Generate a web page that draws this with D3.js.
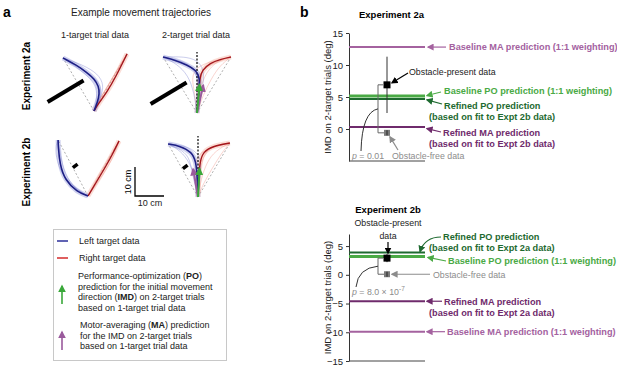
<!DOCTYPE html>
<html lang="en">
<head>
<meta charset="utf-8">
<title>Obstacle experiments</title>
<script src="https://d3js.org/d3.v7.min.js"></script>
<style>
  body { margin: 0; background: #fff; }
  svg { font-family: "Liberation Sans", Arial, sans-serif; }
  .axis path, .axis line { stroke: #333; }
  .axis text { font-size: 9.5px; fill: #222; }
</style>
</head>
<body>
<div id="fig"></div>
<script>
// ---- data: trajectories in cm (x right, y forward), origin = start position
var blue1a = [[0,0],[1.2,3],[1.9,6],[1.6,8.5],[0.2,11],[-2.5,13.3],[-6,15.8],[-10.7,18.3]];
var red1a = [[0,0],[1.5,2.5],[4.5,6.6],[7.5,11.8],[11.4,19.7]];
var blue1aFaint = [[[0,0],[2,4],[2.6,8],[0.5,11.5],[-5,15],[-10.7,18.3]],
                   [[0,0],[2.5,5],[3.4,9],[1.5,12.8],[-4,16],[-10.7,18.3]],
                   [[0,0],[1,4],[0.9,8],[-1,11],[-6,15.2],[-10.7,18.3]]];
var red1aFaint = [[[0,0],[2.5,5],[5.5,10],[8.5,15],[11.4,19.7]],
                  [[0,0],[1,2.5],[3.8,7],[7,12.5],[11.4,19.7]]];

var blue2a = [[0,0],[0.4,4],[0.7,7.9],[1.0,12.1],[-0.3,14.8],[-3.5,16.6],[-7.5,18.2],[-11.7,19.3]];
var red2a = [[0,0],[0.4,4],[0.7,7.9],[1.0,12.1],[1.8,14.8],[4.5,17.2],[8,18.5],[11.7,19.3]];
var blue2aFaint = [[[0,0],[-1,7],[-3,13],[-7,17],[-11.7,19.3]],
                   [[0,0],[1,10],[-1,15.5],[-5,18],[-11.7,19.3]],
                   [[0,0],[2,9],[2.5,14],[1,17.5],[-3,19.5],[-11.7,19.3]]];
var red2aFaint = [[[0,0],[2,6],[5,12],[8,16.5],[11.7,19.3]],
                  [[0,0],[1,8],[3,14],[7,18],[11.7,19.3]],
                  [[0,0],[0.5,6],[0,12],[3,16.5],[11.7,19.3]],
                  [[0,0],[-1,8],[-2,13],[1,17],[11.7,19.3]]];

var blue1b = [[0,0],[-3.8,1.4],[-7.9,5.5],[-9.7,10.7],[-10.3,17.6],[-10.3,19.3]];
var red1b = [[0,0],[3,5],[6,10],[8.5,14.5],[10.7,19]];
var blue1bFaint = [[[0,0],[-3.5,2],[-8.5,6.5],[-10.8,12],[-11.3,17],[-10.3,19.3]],
                   [[0,0],[-2,1],[-6.5,4.5],[-9,11],[-10,17],[-10.3,19.3]]];
var red1bFaint = [[[0,0],[3.6,5],[6.8,10],[9.2,14.5],[10.7,19]],
                  [[0,0],[2.6,5.2],[5.5,10.3],[8.2,14.8],[10.7,19]]];

var blue2b = [[0,0],[-0.3,7.6],[-0.7,12.1],[-2.1,15.5],[-6.2,17.6],[-10.3,18.3]];
var red2b = [[0,0],[0.3,7.6],[0.7,12.1],[1.7,15.5],[5.2,17.6],[11,18.6]];
var blue2bFaint = [[[0,0],[-1,7],[-3,12],[-6,16],[-10.3,18.3]],
                   [[0,0],[-1.5,6],[-2.5,11.5],[-4,15.5],[-10.3,18.3]],
                   [[0,0],[1,9],[1,14],[-3,17.5],[-10.3,18.3]]];
var red2bFaint = [[[0,0],[1,6],[3,12],[6,16],[11,18.6]],
                  [[0,0],[2,5],[5,10],[8,15],[11,18.6]],
                  [[0,0],[-0.5,8],[-1,13],[2,16.5],[11,18.6]],
                  [[0,0],[0.5,8],[1.5,14],[5,17.8],[11,18.6]]];

var obstacle2a = [[-16,3.1],[-3.6,10.5]];
var obstacle2b = [[-5.2,9.8],[-3.6,11]];

// ---- data: IMD values (deg)
var ticks2a = [0, 5, 10, 15];
var ticks2b = [-15, -10, -5, 0, 5];
var conditions = ["Obstacle-present", "Obstacle-free"];
var mean2a = [6.9, -0.6];
var ci2a = [[2.5, 11.3], [-1.0, -0.2]];
var mean2b = [2.9, 0.1];
var ci2b = [[2.2, 3.6], [-0.3, 0.5]];
var predNames = ["Baseline MA", "Refined MA", "Baseline PO", "Refined PO"];
var pred2a = [12.8, 0.3, 5.15, 4.7];
var pred2b = [-9.9, -4.6, 3.2, 3.9];
var pText2a = "0.01";

var cBaseMA = "#a4629f", cRefMA = "#6f2b6c", cBasePO = "#4aaa45", cRefPO = "#1e6a30", cGrey = "#8c8c8c";
var predColors = [cBaseMA, cRefMA, cBasePO, cRefPO];
var fLab = 9.2;

var svg = d3.select("#fig").append("svg").attr("width", 617).attr("height", 367);
var defs = svg.append("defs");
function marker(id, color, size) {
  defs.append("marker").attr("id", id).attr("viewBox", "0 0 10 10")
    .attr("refX", 8).attr("refY", 5).attr("markerUnits", "userSpaceOnUse")
    .attr("markerWidth", size).attr("markerHeight", size).attr("orient", "auto")
    .append("path").attr("d", "M0,0 L10,5 L0,10 z").attr("fill", color);
}
marker("mBaseMA", cBaseMA, 7); marker("mRefMA", cRefMA, 7);
marker("mBasePO", cBasePO, 7); marker("mRefPO", cRefPO, 7);
marker("mGrey", cGrey, 7); marker("mBlack", "#000", 7);
marker("mGreen", "#3aa83a", 8); marker("mPurple", "#9a5a9c", 8);

function text(x, y, s, size, opts) {
  opts = opts || {};
  return svg.append("text").attr("x", x).attr("y", y).text(s)
    .attr("font-size", size).attr("fill", opts.fill || "#222")
    .attr("font-weight", opts.bold ? "bold" : null)
    .attr("text-anchor", opts.anchor || "start");
}

// ---------------- panel a ----------------
text(3, 17, "a", 14, {bold: true, fill: "#000"});
text(141, 16, "Example movement trajectories", 10, {anchor: "middle"});
text(95, 38, "1-target trial data", 9, {anchor: "middle"});
text(196, 38, "2-target trial data", 9, {anchor: "middle"});
svg.append("text").attr("transform", "translate(30,76) rotate(-90)").attr("text-anchor", "middle")
  .attr("font-size", 10).attr("font-weight", "bold").text("Experiment 2a");
svg.append("text").attr("transform", "translate(30,172) rotate(-90)").attr("text-anchor", "middle")
  .attr("font-size", 10).attr("font-weight", "bold").text("Experiment 2b");

var cmPx = 2.9;
function panel(ox, oy, blue, red, blueFaint, redFaint, obstacle, obsWidth, twoTarget, po, ma) {
  var x = d3.scaleLinear().domain([0, 10]).range([ox, ox + 10 * cmPx]);
  var y = d3.scaleLinear().domain([0, 10]).range([oy, oy - 10 * cmPx]);
  var g = svg.append("g");
  var line = d3.line().x(function (d) { return x(d[0]); }).y(function (d) { return y(d[1]); })
    .curve(d3.curveBasis);
  // straight-line paths to targets
  [blue, red].forEach(function (t) {
    var end = t[t.length - 1];
    g.append("line").attr("x1", x(0)).attr("y1", y(0)).attr("x2", x(end[0])).attr("y2", y(end[1]))
      .attr("stroke", "#999").attr("stroke-width", 0.8).attr("stroke-dasharray", "2,2");
  });
  // faint bands and individual trials
  g.append("path").attr("d", line(red)).attr("fill", "none").attr("stroke", "#f3a08c")
    .attr("stroke-width", 5).attr("stroke-opacity", 0.35);
  g.append("path").attr("d", line(blue)).attr("fill", "none").attr("stroke", "#8a8fd6")
    .attr("stroke-width", 5).attr("stroke-opacity", 0.4);
  redFaint.forEach(function (t) {
    g.append("path").attr("d", line(t)).attr("fill", "none").attr("stroke", "#ee8a7a")
      .attr("stroke-width", 0.9).attr("stroke-opacity", 0.4);
  });
  blueFaint.forEach(function (t) {
    g.append("path").attr("d", line(t)).attr("fill", "none").attr("stroke", "#7f83cf")
      .attr("stroke-width", 0.9).attr("stroke-opacity", 0.45);
  });
  if (twoTarget) {
    g.append("line").attr("x1", x(0)).attr("y1", y(0)).attr("x2", x(0)).attr("y2", y(21))
      .attr("stroke", "#000").attr("stroke-width", 1.2).attr("stroke-dasharray", "2,1.5");
  }
  g.append("path").attr("d", line(red)).attr("fill", "none").attr("stroke", "#a4161c").attr("stroke-width", 1.4);
  g.append("path").attr("d", line(blue)).attr("fill", "none").attr("stroke", "#1d1f85").attr("stroke-width", 1.6);
  g.append("line").attr("x1", x(obstacle[0][0])).attr("y1", y(obstacle[0][1]))
    .attr("x2", x(obstacle[1][0])).attr("y2", y(obstacle[1][1]))
    .attr("stroke", "#000").attr("stroke-width", obsWidth);
  if (twoTarget) {
    var L = 9.8;
    [[ma, "#9a5a9c", "mPurple"], [po, "#3aa83a", "mGreen"]].forEach(function (a) {
      var r = a[0] * Math.PI / 180;
      g.append("line").attr("x1", x(0)).attr("y1", y(0))
        .attr("x2", x(L * Math.sin(r))).attr("y2", y(L * Math.cos(r)))
        .attr("stroke", a[1]).attr("stroke-width", 2).attr("marker-end", "url(#" + a[2] + ")");
    });
  }
  return {x: x, y: y};
}
panel(94, 111, blue1a, red1a, blue1aFaint, red1aFaint, obstacle2a, 4, false);
panel(197, 113, blue2a, red2a, blue2aFaint, red2aFaint, obstacle2a, 4, true, pred2a[2], pred2a[0]);
panel(88, 196, blue1b, red1b, blue1bFaint, red1bFaint, obstacle2b, 3.5, false);
panel(198, 197, blue2b, red2b, blue2bFaint, red2bFaint, obstacle2b, 3.5, true, pred2b[2], pred2b[0]);

// scale bar (10 cm)
var sbx = d3.scaleLinear().domain([0, 10]).range([135, 135 + 10 * cmPx]);
var sby = d3.scaleLinear().domain([0, 10]).range([196, 196 - 10 * cmPx]);
svg.append("path").attr("d", "M" + sbx(0) + "," + sby(10) + " L" + sbx(0) + "," + sby(0) + " L" + sbx(10) + "," + sby(0))
  .attr("fill", "none").attr("stroke", "#000").attr("stroke-width", 1.3);
svg.append("text").attr("transform", "translate(131,182) rotate(-90)").attr("text-anchor", "middle")
  .attr("font-size", 9).text("10 cm");
text(150, 206, "10 cm", 9, {anchor: "middle"});

// legend
svg.append("rect").attr("x", 53.5).attr("y", 229.5).attr("width", 173).attr("height", 131)
  .attr("fill", "none").attr("stroke", "#c8c8c8");
svg.append("line").attr("x1", 57).attr("x2", 68).attr("y1", 241).attr("y2", 241).attr("stroke", "#2b2f9a").attr("stroke-width", 1.5);
text(79, 244, "Left target data", 9);
svg.append("line").attr("x1", 57).attr("x2", 68).attr("y1", 258).attr("y2", 258).attr("stroke", "#d42a2a").attr("stroke-width", 1.5);
text(79, 261, "Right target data", 9);
function richLines(x, y0, lines) {
  lines.forEach(function (parts, i) {
    var t = svg.append("text").attr("x", x).attr("y", y0 + i * 10.5).attr("font-size", 9).attr("fill", "#222");
    parts.forEach(function (p) {
      t.append("tspan").text(p[0]).attr("font-weight", p[1] ? "bold" : null);
    });
  });
}
richLines(78, 279, [[["Performance-optimization ("], ["PO", 1], [")"]],
                    [["prediction for the initial movement"]],
                    [["direction ("], ["IMD", 1], [") on 2-target trials"]],
                    [["based on 1-target trial data"]]]);
richLines(80, 328, [[["Motor-averaging ("], ["MA", 1], [") prediction"]],
                    [["for the IMD on 2-target trials"]],
                    [["based on 1-target trial data"]]]);
svg.append("line").attr("x1", 62).attr("x2", 62).attr("y1", 304).attr("y2", 286)
  .attr("stroke", "#3aa83a").attr("stroke-width", 1.6).attr("marker-end", "url(#mGreen)");
svg.append("line").attr("x1", 62).attr("x2", 62).attr("y1", 350).attr("y2", 332)
  .attr("stroke", "#9a5a9c").attr("stroke-width", 1.6).attr("marker-end", "url(#mPurple)");

// ---------------- panel b ----------------
text(300, 17, "b", 14, {bold: true, fill: "#000"});
var xData = 387;

function imdPanel(top, bottom, domain, ticks, means, cis, preds) {
  var y = d3.scaleLinear().domain(domain).range([bottom, top]);
  svg.append("g").attr("class", "axis").attr("transform", "translate(349,0)")
    .call(d3.axisLeft(y).tickValues(ticks).tickSize(3).tickSizeOuter(0));
  svg.append("line").attr("x1", 349).attr("x2", 425).attr("y1", y(domain[0])).attr("y2", y(domain[0]))
    .attr("stroke", "#444").attr("stroke-width", 1);
  svg.append("text").attr("transform", "translate(331," + ((top + bottom) / 2) + ") rotate(-90)")
    .attr("text-anchor", "middle").attr("font-size", 9.5).attr("fill", "#222").text("IMD on 2-target trials (deg)");
  // prediction lines
  preds.forEach(function (v, i) {
    svg.append("line").attr("x1", 349).attr("x2", 425).attr("y1", y(v)).attr("y2", y(v))
      .attr("stroke", predColors[i]).attr("stroke-width", i === 2 ? 3 : 2);
  });
  // data with CIs
  means.forEach(function (m, i) {
    var col = i === 0 ? "#000" : "#7a7a7a";
    svg.append("line").attr("x1", xData).attr("x2", xData).attr("y1", y(cis[i][0])).attr("y2", y(cis[i][1]))
      .attr("stroke", i === 0 ? "#333" : "#444").attr("stroke-width", 1);
    var s = i === 0 ? 7 : 6;
    svg.append("rect").attr("x", xData - s / 2).attr("y", y(m) - s / 2).attr("width", s).attr("height", s)
      .attr("fill", col);
    if (i === 1) {
      svg.append("line").attr("x1", xData).attr("x2", xData).attr("y1", y(m) - 2.5).attr("y2", y(m) + 2.5)
        .attr("stroke", "#333").attr("stroke-width", 1.2);
    }
  });
  // bracket
  svg.append("path").attr("d", "M" + (xData - 4) + "," + y(means[0]) + " H378 V" + y(means[1]) + " H" + (xData - 3))
    .attr("fill", "none").attr("stroke", "#666").attr("stroke-width", 1);
  return y;
}
function arrow(d, m, color) {
  svg.append("path").attr("d", d).attr("fill", "none").attr("stroke", color).attr("stroke-width", 1.2)
    .attr("marker-end", "url(#" + m + ")");
}

// Experiment 2a
text(359, 18, "Experiment 2a", 9.5, {bold: true, fill: "#000"});
var ya = imdPanel(33, 161, [-5, 15], ticks2a, mean2a, ci2a, pred2a);
text(449, ya(pred2a[0]) + 3.2, "Baseline MA prediction (1:1 weighting)", fLab, {bold: true, fill: cBaseMA});
arrow("M446," + ya(pred2a[0]) + " H428", "mBaseMA", cBaseMA);
text(409, 75, "Obstacle-present data", 8.8, {fill: "#222"});
arrow("M408,73 L392," + (ya(mean2a[0]) - 2), "mBlack", "#000");
text(444, 94, "Baseline PO prediction (1:1 weighting)", fLab, {bold: true, fill: cBasePO});
arrow("M441,92 L427," + (ya(pred2a[2]) - 0.5), "mBasePO", cBasePO);
text(444, 109, "Refined PO prediction", fLab, {bold: true, fill: cRefPO});
text(429, 120, "(based on fit to Expt 2b data)", fLab, {bold: true, fill: cRefPO});
arrow("M442,104 L427," + (ya(pred2a[3]) + 1), "mRefPO", cRefPO);
text(443, 136, "Refined MA prediction", fLab, {bold: true, fill: cRefMA});
text(429, 147, "(based on fit to Expt 2b data)", fLab, {bold: true, fill: cRefMA});
arrow("M441,132 L427," + (ya(pred2a[1]) + 1.5), "mRefMA", cRefMA);
text(392, 159, "Obstacle-free data", 8.8, {fill: cGrey});
arrow("M398,150 L390," + (ya(mean2a[1]) + 4), "mGrey", cGrey);
var pa = text(352, 159, "", 8.8, {fill: cGrey});
pa.append("tspan").attr("font-style", "italic").text("p");
pa.append("tspan").text(" = " + pText2a);
svg.append("path").attr("d", "M361,151 Q362,112 378," + ((ya(mean2a[0]) + ya(mean2a[1])) / 2))
  .attr("fill", "none").attr("stroke", "#333").attr("stroke-width", 1);

// Experiment 2b
text(388, 213, "Experiment 2b", 9.5, {bold: true, fill: "#000", anchor: "middle"});
var yb = imdPanel(234, 361, [-15, 7.1], ticks2b, mean2b, ci2b, pred2b);
text(388, 226, "Obstacle-present", 8.8, {anchor: "middle"});
text(388, 239, "data", 8.8, {anchor: "middle"});
arrow("M388,242 L388," + (yb(ci2b[0][1]) - 1), "mBlack", "#000");
text(443, 240, "Refined PO prediction", fLab, {bold: true, fill: cRefPO});
text(429, 251, "(based on fit to Expt 2a data)", fLab, {bold: true, fill: cRefPO});
arrow("M441,237 Q425,237 420," + (yb(pred2b[3]) - 1), "mRefPO", cRefPO);
text(448, 264, "Baseline PO prediction (1:1 weighting)", fLab, {bold: true, fill: cBasePO});
arrow("M446,261 L428," + (yb(pred2b[2]) + 1), "mBasePO", cBasePO);
text(433, 278, "Obstacle-free data", 8.8, {fill: cGrey});
arrow("M430," + yb(mean2b[1]) + " L392," + yb(mean2b[1]), "mGrey", cGrey);
var pb = text(352, 295, "", 8.8, {fill: cGrey});
pb.append("tspan").attr("font-style", "italic").text("p");
pb.append("tspan").text(" = 8.0 × 10");
pb.append("tspan").attr("font-size", 6.5).attr("dy", -4).text("-7");
svg.append("path").attr("d", "M356,287 Q358,268 378," + ((yb(mean2b[0]) + yb(mean2b[1])) / 2))
  .attr("fill", "none").attr("stroke", "#333").attr("stroke-width", 1);
text(444, 305, "Refined MA prediction", fLab, {bold: true, fill: cRefMA});
text(429, 316, "(based on fit to Expt 2a data)", fLab, {bold: true, fill: cRefMA});
arrow("M442," + yb(pred2b[1]) + " H427", "mRefMA", cRefMA);
text(447, yb(pred2b[0]) + 3.2, "Baseline MA prediction (1:1 weighting)", fLab, {bold: true, fill: cBaseMA});
arrow("M445," + yb(pred2b[0]) + " H427", "mBaseMA", cBaseMA);
</script>
</body>
</html>
